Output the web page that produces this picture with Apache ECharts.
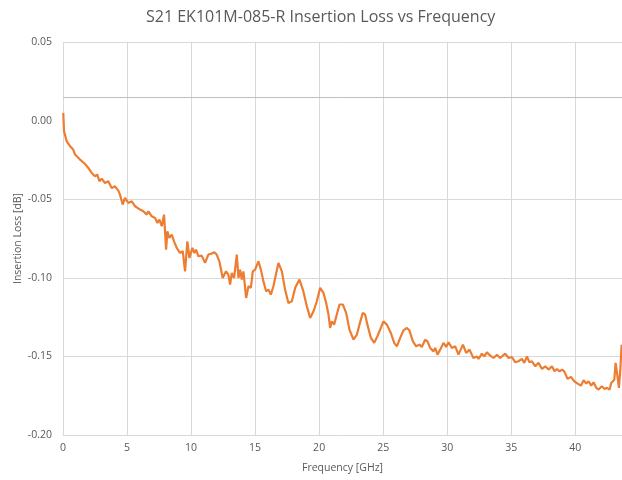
<!DOCTYPE html>
<html><head><meta charset="utf-8">
<script src="https://cdn.jsdelivr.net/npm/echarts@6/dist/echarts.min.js"></script>
<style>html,body{margin:0;padding:0;background:#fff}#c{width:622px;height:480px}</style>
</head><body><div id="c"></div>
<script>
const titleText = 'S21 EK101M-085-R Insertion Loss vs Frequency';
const xAxisName = 'Frequency [GHz]';
const yAxisName = 'Insertion Loss [dB]';
const xTicks = [0, 5, 10, 15, 20, 25, 30, 35, 40];
const yTicks = [-0.20, -0.15, -0.10, -0.05, 0.00, 0.05];
const yGridValues = [-0.15, -0.10, -0.05, 0.05];
const axisCrossValue = 0.0146;

const freq = [0.02,0.08,0.29,0.55,0.80,0.94,1.33,1.72,1.98,2.24,2.37,2.50,2.68,2.84,3.02,3.28,3.54,3.80,4.06,4.32,4.45,4.66,4.84,5.10,5.37,5.63,6.02,6.27,6.54,6.67,6.93,7.19,7.37,7.53,7.71,7.89,8.05,8.15,8.30,8.49,8.67,8.88,9.01,9.14,9.35,9.53,9.71,9.87,10.10,10.26,10.39,10.57,10.83,11.09,11.35,11.61,11.82,12.00,12.21,12.47,12.73,12.91,13.05,13.18,13.36,13.57,13.70,13.83,13.96,14.09,14.30,14.48,14.67,14.82,15.00,15.26,15.45,15.65,15.86,16.04,16.23,16.43,16.82,17.09,17.34,17.60,17.87,18.13,18.46,18.73,19.04,19.30,19.56,19.82,20.08,20.34,20.55,20.73,20.86,20.99,21.17,21.38,21.59,21.85,22.11,22.37,22.68,22.95,23.15,23.41,23.59,23.77,24.04,24.30,24.55,24.82,25.02,25.29,25.60,25.86,26.07,26.33,26.59,26.85,27.05,27.32,27.58,27.84,28.02,28.28,28.46,28.67,28.93,29.06,29.24,29.45,29.71,29.92,30.10,30.37,30.63,30.88,31.23,31.48,31.74,32.05,32.32,32.45,32.71,32.89,33.10,33.36,33.62,33.88,34.14,34.53,34.79,35.05,35.31,35.57,35.84,36.02,36.23,36.41,36.62,36.88,37.13,37.40,37.66,37.91,38.18,38.38,38.57,38.77,38.96,39.14,39.40,39.66,39.92,40.18,40.45,40.65,40.86,41.04,41.25,41.43,41.64,41.82,42.08,42.29,42.47,42.68,42.81,42.95,43.05,43.15,43.26,43.41,43.52,43.62];
const loss = [0.0049,-0.0068,-0.0132,-0.0163,-0.0184,-0.0216,-0.0248,-0.0276,-0.0301,-0.0333,-0.0322,-0.0354,-0.0344,-0.0386,-0.0369,-0.0397,-0.0386,-0.0428,-0.0418,-0.0445,-0.0471,-0.0534,-0.0492,-0.0524,-0.0513,-0.0545,-0.0566,-0.0577,-0.0598,-0.0577,-0.0609,-0.0619,-0.0651,-0.0630,-0.0672,-0.0598,-0.0821,-0.0704,-0.0746,-0.0725,-0.0768,-0.0810,-0.0799,-0.0842,-0.0831,-0.0959,-0.0768,-0.0874,-0.0810,-0.0842,-0.0821,-0.0863,-0.0859,-0.0905,-0.0852,-0.0846,-0.0838,-0.0852,-0.0895,-0.1001,-0.0959,-0.0980,-0.1043,-0.0969,-0.1001,-0.0852,-0.1001,-0.0948,-0.1011,-0.0959,-0.1128,-0.1054,-0.1064,-0.0959,-0.0948,-0.0895,-0.0948,-0.1022,-0.1086,-0.1075,-0.1107,-0.1054,-0.0905,-0.0959,-0.1075,-0.1160,-0.1149,-0.1064,-0.1011,-0.1075,-0.1181,-0.1255,-0.1213,-0.1149,-0.1064,-0.1096,-0.1160,-0.1234,-0.1319,-0.1277,-0.1298,-0.1234,-0.1170,-0.1170,-0.1223,-0.1330,-0.1393,-0.1361,-0.1298,-0.1223,-0.1234,-0.1298,-0.1382,-0.1414,-0.1372,-0.1319,-0.1277,-0.1298,-0.1351,-0.1414,-0.1436,-0.1382,-0.1334,-0.1319,-0.1334,-0.1404,-0.1436,-0.1425,-0.1440,-0.1393,-0.1404,-0.1446,-0.1468,-0.1446,-0.1489,-0.1457,-0.1414,-0.1440,-0.1410,-0.1446,-0.1436,-0.1489,-0.1425,-0.1478,-0.1457,-0.1510,-0.1500,-0.1516,-0.1482,-0.1500,-0.1474,-0.1495,-0.1510,-0.1489,-0.1510,-0.1482,-0.1510,-0.1504,-0.1537,-0.1531,-0.1516,-0.1541,-0.1500,-0.1537,-0.1531,-0.1563,-0.1541,-0.1580,-0.1563,-0.1584,-0.1563,-0.1595,-0.1580,-0.1595,-0.1584,-0.1595,-0.1643,-0.1630,-0.1658,-0.1673,-0.1686,-0.1652,-0.1673,-0.1658,-0.1686,-0.1665,-0.1700,-0.1711,-0.1690,-0.1707,-0.1700,-0.1711,-0.1669,-0.1680,-0.1648,-0.1541,-0.1605,-0.1700,-0.1584,-0.1425];

const seriesData = freq.map((f, i) => [f, loss[i]]);
const FONT = 'Open Sans';
const GRID = '#d9d9d9';
const xMin = 0, xMax = 43.65;
const gridLineData = yGridValues.map(v => [
  {coord: [xMin, v], lineStyle: {color: GRID}},
  {coord: [xMax, v]}
]);
gridLineData.push([
  {coord: [xMin, axisCrossValue], lineStyle: {color: '#bfbfbf'}},
  {coord: [xMax, axisCrossValue]}
]);
const chart = echarts.init(document.getElementById('c'), null, {renderer: 'canvas'});
chart.setOption({
  animation: false,
  backgroundColor: '#ffffff',
  title: {
    text: titleText, left: 141, top: 4,
    textStyle: {fontFamily: FONT, fontSize: 16, fontWeight: 'normal', color: '#595959'}
  },
  grid: {left: 63, right: 0, top: 42, bottom: 45, containLabel: false},
  xAxis: {
    type: 'value', min: xMin, max: xMax, interval: 5,
    name: xAxisName, nameLocation: 'middle', nameGap: 28, nameMoveOverlap: false,
    nameTextStyle: {fontFamily: FONT, fontSize: 10.5, color: '#595959'},
    axisLine: {show: true, onZero: false, lineStyle: {color: GRID, width: 1}},
    axisTick: {show: false},
    axisLabel: {
      fontFamily: FONT, fontSize: 10.5, color: '#595959', margin: 8,
      showMaxLabel: false,
      formatter: v => xTicks.includes(v) ? String(v) : ''
    },
    splitLine: {show: true, lineStyle: {color: GRID, width: 1}}
  },
  yAxis: {
    type: 'value', min: yTicks[0], max: yTicks[yTicks.length - 1], interval: 0.05,
    name: yAxisName, nameLocation: 'middle', nameGap: 39, nameMoveOverlap: false,
    nameTextStyle: {fontFamily: FONT, fontSize: 10.5, color: '#595959'},
    axisLine: {show: false},
    axisTick: {show: false},
    axisLabel: {fontFamily: FONT, fontSize: 10.5, color: '#595959', margin: 11,
      formatter: v => v.toFixed(2)},
    splitLine: {show: false}
  },
  series: [{
    type: 'line', data: seriesData, showSymbol: false, smooth: false, z: 3,
    lineStyle: {color: '#ED7D31', width: 2.2},
    itemStyle: {color: '#ED7D31'},
    markLine: {
      silent: true, symbol: 'none', label: {show: false}, precision: 6, z: 1,
      lineStyle: {type: 'solid', width: 1},
      emphasis: {disabled: true},
      data: gridLineData
    }
  }]
});
</script></body></html>
